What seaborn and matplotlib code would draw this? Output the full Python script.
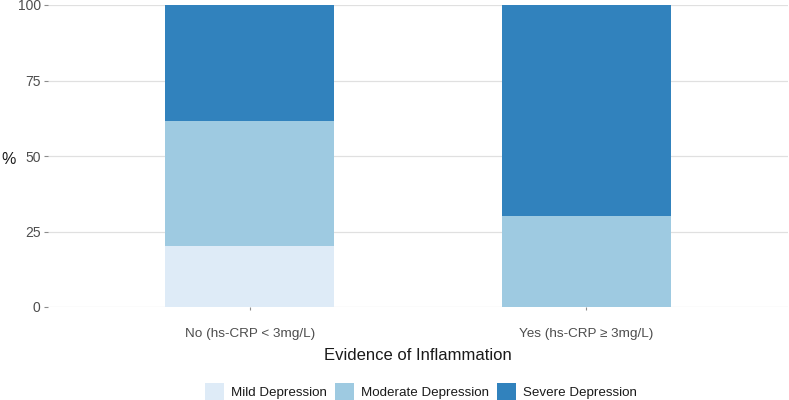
import matplotlib
matplotlib.use("Agg")
import matplotlib.pyplot as plt
import seaborn as sns
import pandas as pd
from matplotlib.patches import Patch

categories = ["No (hs-CRP < 3mg/L)", "Yes (hs-CRP \u2265 3mg/L)"]
series_names = ["Mild Depression", "Moderate Depression", "Severe Depression"]
mild = [20.3, 0.0]
moderate = [41.3, 30.0]
severe = [38.4, 70.0]
colors = ["#deebf7", "#9ecae1", "#3182bd"]
y_ticks = [0, 25, 50, 75, 100]

sns.set_theme(style="white")
plt.rcParams['font.family'] = ['Liberation Sans', 'DejaVu Sans']

fig = plt.figure(figsize=(7.89, 4.0), dpi=100)
ax = fig.add_axes([0.0603, 0.2325, 0.939, 0.755])

bottoms = [0.0, 0.0]
for name, col, vals in zip(series_names, colors, [mild, moderate, severe]):
    sns.barplot(data=pd.DataFrame({"cat": categories, "v": vals}), x="cat", y="v",
                color=col, width=0.5, bottom=bottoms, ax=ax, saturation=1,
                linewidth=0, order=categories)
    bottoms = [b + v for b, v in zip(bottoms, vals)]

ax.set_xlim(-0.6, 1.6)
ax.set_ylim(0, 100)
ax.set_yticks(y_ticks)
ax.set_yticklabels([str(t) for t in y_ticks])
ax.set_axisbelow(True)
ax.yaxis.grid(True, color="#e0e0e0", linewidth=0.9)
ax.xaxis.grid(False)
for s in ax.spines.values():
    s.set_visible(False)
ax.tick_params(axis="y", colors="#8c8c8c", labelcolor="#4d4d4d", labelsize=10,
               length=3, width=0.8, left=True, pad=2)
ax.tick_params(axis="x", colors="#8c8c8c", labelcolor="#4d4d4d", labelsize=9.7,
               length=2, width=0.8, bottom=True, pad=13)
ax.set_xlabel("Evidence of Inflammation", fontsize=12, color="#1a1a1a", labelpad=6)
ax.set_ylabel("%", fontsize=11.5, color="#1a1a1a", rotation=0, va="center", ha="center")
ax.yaxis.set_label_coords(-0.052, 0.49)

handles = [Patch(facecolor=c, edgecolor="none", label=n) for n, c in zip(series_names, colors)]
fig.legend(handles=handles, loc="lower center", bbox_to_anchor=(0.534, -0.024), ncol=3,
           frameon=False, fontsize=9.6, handlelength=1.4, handleheight=1.6,
           handletextpad=0.55, columnspacing=0.6, labelcolor="#1a1a1a", borderpad=0.2)

fig.savefig("out.png", dpi=100)
